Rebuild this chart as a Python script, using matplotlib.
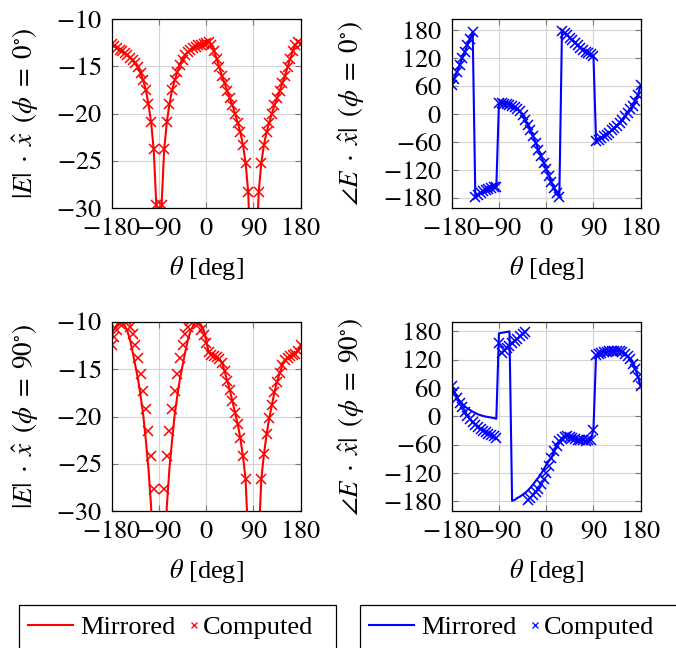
import numpy as np
import matplotlib
matplotlib.use("Agg")
import matplotlib.pyplot as plt
from matplotlib.lines import Line2D
from matplotlib.patches import Rectangle
from matplotlib.ticker import FuncFormatter

plt.rcParams['font.family'] = ['Liberation Serif', 'DejaVu Serif']
plt.rcParams['mathtext.fontset'] = 'stix'

# sample grid of the far-field cuts (deg)
theta = np.arange(-180, 181, 5)

# |E|.x, phi = 0 (dB) -- mirrored curve coincides with computed
mag_phi0 = [
    -12.6, -12.9, -13.1, -13.25, -13.4, -13.6, -13.8, -14.1, -14.35, -14.7,
    -15.1, -15.7, -16.5, -17.5, -19.0, -20.9, -23.8, -29.7, -60.0, -29.7,
    -23.8, -20.9, -19.0, -17.5, -16.5, -15.6, -14.9, -14.3, -13.8, -13.5,
    -13.3, -13.1, -12.95, -12.8, -12.7, -12.6, -12.5, -12.4, -12.7, -13.4,
    -14.2, -15.1, -16.0, -16.8, -17.6, -18.4, -19.1, -20.0, -21.0, -22.0,
    -23.3, -25.2, -28.3, -36.0, -60.0, -36.0, -28.3, -25.2, -23.3, -22.0,
    -21.0, -20.0, -19.1, -18.4, -17.6, -16.8, -16.0, -15.1, -14.2, -13.4,
    -12.7, -12.4, -12.6]

# angle E.x, phi = 0 (deg)
ph_phi0 = [
    62, 76, 90, 105, 120, 134, 148, 162, 176, -178,
    -173, -169, -166, -163, -161, -159, -157, -156, 24, 23.5,
    22.5, 21.5, 20, 17.5, 15, 11.5, 6, -2, -12, -23,
    -35, -47, -62, -76, -90, -104, -118, -132, -146, -158,
    -169, -177, 178, 175, 170, 164, 159, 153, 148, 142,
    138, 134, 132, 129, 125, -58, -55, -52, -48, -44,
    -40, -35, -30, -25, -20, -13, -5, 2, 10, 18,
    28, 42, 62]

# |E|.x, phi = 90 (dB)
mag_phi90_comp = [
    -12.4, -11.6, -10.8, -10.2, -9.7, -9.6, -9.9, -10.5, -11.3, -12.4,
    -13.8, -15.5, -17.3, -19.2, -21.5, -24.2, -27.7, -35.0, -60.0, -35.0,
    -27.7, -24.2, -21.5, -19.2, -17.3, -15.5, -13.8, -12.4, -11.3, -10.5,
    -9.9, -9.6, -9.7, -10.2, -10.8, -11.4, -12.2, -13.2, -13.5, -13.6,
    -13.7, -13.9, -14.3, -15.2, -16.2, -17.2, -18.4, -19.6, -20.8, -22.3,
    -24.2, -26.6, -33.0, -40.0, -60.0, -40.0, -33.0, -26.6, -24.0, -21.9,
    -20.2, -18.8, -17.4, -16.3, -15.4, -14.6, -14.0, -13.8, -13.6, -13.5,
    -13.4, -13.1, -12.4]
mag_phi90_mirr = [
    -11.3, -10.7, -10.3, -10.1, -10.1, -10.4, -11.0, -11.9, -13.2, -14.6,
    -16.0, -17.8, -19.8, -22.5, -25.5, -29.5, -36.0, -45.0, -60.0, -45.0,
    -36.0, -29.5, -25.5, -22.5, -19.8, -17.8, -16.0, -14.6, -13.2, -11.9,
    -11.0, -10.4, -10.1, -10.1, -10.3, -10.8, -12.0, -13.2, -13.5, -13.6,
    -13.7, -13.9, -14.3, -15.2, -16.2, -17.2, -18.4, -19.6, -20.8, -22.3,
    -24.2, -26.6, -33.0, -40.0, -60.0, -40.0, -33.0, -26.6, -24.0, -21.9,
    -20.2, -18.8, -17.4, -16.3, -15.4, -14.6, -14.0, -13.8, -13.6, -13.5,
    -13.4, -13.1, -12.4]

# angle E.x, phi = 90 (deg)
ph_phi90_comp = [
    64, 51, 40, 29, 19, 10, 1, -6, -12, -18,
    -23, -27, -31, -34, -37, -40, -42, -45, 155, 135,
    140, 145, 150, 155, 160, 165, 170, 175, 179, -178,
    -173, -167, -161, -153, -144, -133, -120, -105, -88, -74,
    -62, -53, -47, -43, -42, -43, -45, -47, -49, -50,
    -51, -52, -51, -49, -28, 130, 133, 135, 136, 137,
    138, 139, 139, 139, 139, 136, 132, 127, 121, 112,
    100, 83, 64]
ph_phi90_mirr = [
    64, 52, 41, 33, 27, 21, 17, 13.5, 10, 7,
    4.5, 2.5, 0.7, -0.5, -1.5, -2.5, -3.5, -5, 176, 177,
    178, 179, 180, -179, -177, -173, -170, -166, -162, -157,
    -151, -144, -137, -130, -122, -113, -103, -95, -88, -74,
    -62, -53, -47, -43, -42, -43, -45, -47, -49, -50,
    -51, -52, -51, -49, -28, 130, 133, 135, 136, 137,
    138, 139, 139, 139, 139, 136, 132, 127, 121, 112,
    100, 83, 64]

FS = 19
W, H = 676, 648

math_fmt = FuncFormatter(lambda v, pos: f'${v:g}$')


def px_axes(fig, left, top, size=189):
    """Add axes given pixel position (top-left origin)."""
    return fig.add_axes([left / W, 1 - (top + size) / H, size / W, size / H])


def style(ax, ylim, yticks, ylabel):
    ax.set_xlim(-180, 180)
    ax.set_xticks([-180, -90, 0, 90, 180])
    ax.set_ylim(*ylim)
    ax.set_yticks(yticks)
    ax.xaxis.set_major_formatter(math_fmt)
    ax.yaxis.set_major_formatter(math_fmt)
    ax.grid(True, color='#d4d4d4', lw=0.8)
    ax.set_axisbelow(True)
    ax.tick_params(direction='in', length=4, width=0.8, color='#777777',
                   top=True, right=True, labelsize=FS, pad=7)
    for s in ax.spines.values():
        s.set_linewidth(0.9)
    ax.set_xlabel(r'$\theta$ [deg]', fontsize=FS, labelpad=10)
    ax.set_ylabel(ylabel, fontsize=FS + 0.5, labelpad=12)


def draw(ax, mirr, comp, color):
    ax.plot(theta, mirr, color=color, lw=1.5)
    ax.plot(theta, comp, ls='none', marker='x', ms=6.5, mew=1.1, color=color)


fig = plt.figure(figsize=(W / 100, H / 100), dpi=100)

ax = px_axes(fig, 111.7, 19)
draw(ax, mag_phi0, mag_phi0, 'red')
style(ax, (-30, -10), [-30, -25, -20, -15, -10],
      r'$|E|\;\cdot\;\hat{x}\;\;(\phi\;=\;0^{\circ})$')

ax = px_axes(fig, 451.7, 19)
draw(ax, ph_phi0, ph_phi0, 'blue')
style(ax, (-201.5, 204), [-180, -120, -60, 0, 60, 120, 180],
      r'$\angle E\;\cdot\;\hat{x}|\;\;(\phi\;=\;0^{\circ})$')

ax = px_axes(fig, 111.7, 322)
draw(ax, mag_phi90_mirr, mag_phi90_comp, 'red')
style(ax, (-30, -10), [-30, -25, -20, -15, -10],
      r'$|E|\;\cdot\;\hat{x}\;\;(\phi\;=\;90^{\circ})$')

ax = px_axes(fig, 451.7, 322)
draw(ax, ph_phi90_mirr, ph_phi90_comp, 'blue')
style(ax, (-200.5, 200), [-180, -120, -60, 0, 60, 120, 180],
      r'$\angle E\;\cdot\;\hat{x}|\;\;(\phi\;=\;90^{\circ})$')

# legend boxes at the bottom (cut by the figure edge, as in the source)
for x0, x1, color in [(19, 336, 'red'), (360, 700, 'blue')]:
    fig.add_artist(Rectangle((x0 / W, 1 - 665 / H), (x1 - x0) / W, 60 / H,
                             transform=fig.transFigure, fill=False,
                             edgecolor='black', lw=0.9))
    yc = 1 - 627 / H
    fig.legend([Line2D([], [], color=color, lw=1.5)], ['Mirrored'],
               loc='center left', bbox_to_anchor=((x0 + 9) / W, yc),
               frameon=False, handlelength=1.7, handletextpad=0.27,
               borderpad=0, borderaxespad=0, fontsize=FS)
    fig.legend([Line2D([], [], ls='none', marker='x', ms=5, mew=0.9, color=color)],
               ['Computed'],
               loc='center left', bbox_to_anchor=((x0 + 168.5) / W, yc),
               frameon=False, handlelength=0.5, handletextpad=0.1,
               borderpad=0, borderaxespad=0, fontsize=FS)

fig.savefig('out.png', dpi=100)
